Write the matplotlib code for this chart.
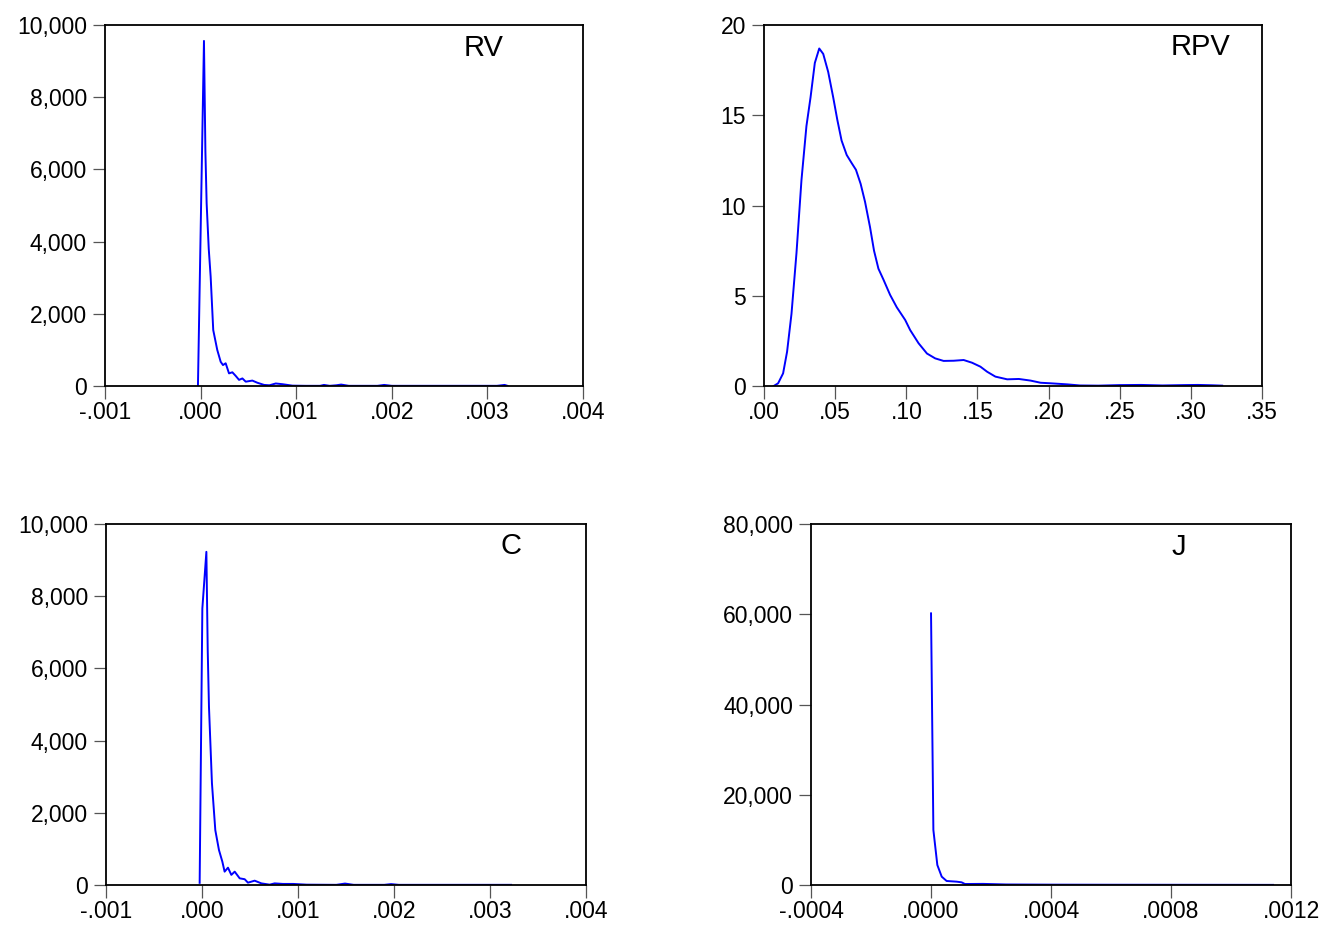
import numpy as np
import matplotlib.pyplot as plt
from matplotlib.ticker import FuncFormatter

plt.rcParams['font.family'] = ['Liberation Sans', 'DejaVu Sans']

# kernel density curves
rv_x = [-0.000028, 0.000035, 0.000050, 0.000063, 0.000085, 0.000105, 0.000132, 0.000174, 0.000210,
        0.000234, 0.000262, 0.000297, 0.000332, 0.000367, 0.000402, 0.000437, 0.000472, 0.000541,
        0.000594, 0.000664, 0.000720, 0.000786, 0.000856, 0.000960, 0.00110, 0.00125, 0.00129,
        0.00135, 0.00142, 0.00147, 0.00155, 0.00185, 0.00192, 0.00200, 0.00250, 0.00310, 0.00318, 0.00321]
rv_y = [0, 9560, 6500, 5060, 3800, 3030, 1550, 1000, 670,
        580, 630, 350, 380, 280, 170, 210, 120, 150,
        90, 30, 20, 70, 50, 10, 5, 5, 30,
        5, 20, 40, 5, 5, 30, 5, 5, 5, 30, 5]

rpv_x = [0.0068, 0.0099, 0.0134, 0.0162, 0.0193, 0.0228, 0.0263, 0.0298, 0.0327, 0.0357, 0.0388,
         0.0416, 0.0451, 0.0486, 0.0515, 0.0545, 0.0581, 0.0616, 0.0646, 0.0679, 0.0710, 0.0745,
         0.0773, 0.0804, 0.0839, 0.0886, 0.0933, 0.0992, 0.1027, 0.1086, 0.1145, 0.1203, 0.1262,
         0.1333, 0.1403, 0.1462, 0.1521, 0.1568, 0.1626, 0.1709, 0.1791, 0.1873, 0.1944, 0.2014,
         0.2132, 0.2220, 0.2350, 0.2500, 0.2650, 0.2800, 0.2950, 0.3050, 0.3150, 0.3220]
rpv_y = [0.0, 0.15, 0.70, 1.9, 4.0, 7.36, 11.4, 14.4, 16.0, 17.9, 18.7,
         18.4, 17.4, 16.0, 14.75, 13.6, 12.8, 12.35, 11.98, 11.2, 10.2, 8.8,
         7.5, 6.5, 5.9, 5.05, 4.36, 3.66, 3.1, 2.37, 1.8, 1.53, 1.39,
         1.40, 1.44, 1.29, 1.07, 0.79, 0.52, 0.37, 0.39, 0.30, 0.18, 0.15,
         0.09, 0.03, 0.02, 0.05, 0.06, 0.03, 0.05, 0.06, 0.04, 0.02]

c_x = [-0.000024, 0.000004, 0.000046, 0.000060, 0.000073, 0.000104, 0.000139, 0.000177, 0.000212,
       0.000236, 0.000271, 0.000306, 0.000341, 0.000393, 0.000445, 0.000479, 0.000549, 0.000619,
       0.000705, 0.000757, 0.000844, 0.00095, 0.00109, 0.00140, 0.00149, 0.00158, 0.00190,
       0.00197, 0.00205, 0.00250, 0.00322]
c_y = [60, 7660, 9230, 6500, 4940, 2820, 1520, 970, 650,
       370, 480, 280, 370, 185, 160, 65, 120, 45,
       10, 45, 30, 30, 10, 5, 40, 5, 5,
       25, 5, 5, 5]

j_x = [0.0, 0.0000078, 0.000021, 0.0000356, 0.000052, 0.0000856, 0.000102, 0.000113, 0.000173,
       0.00025, 0.0004, 0.0006, 0.0008, 0.0010, 0.00114]
j_y = [60200, 12200, 4430, 1850, 890, 740, 590, 220, 250,
       120, 80, 60, 50, 40, 30]


def dotfmt(nd):
    def f(v, pos):
        s = f"{v:.{nd}f}"
        if s.startswith('-'):
            s = s.replace('-0.', '-.')
        else:
            s = s.replace('0.', '.', 1)
        return s
    return FuncFormatter(f)


def style(ax, name, tx, ty):
    for s in ax.spines.values():
        s.set_linewidth(1.3)
        s.set_color('black')
    ax.tick_params(axis='both', direction='out', labelsize=16.5, width=0.9, color='#555555')
    ax.tick_params(axis='y', length=9, pad=4)
    ax.tick_params(axis='x', length=9, pad=2)
    ax.text(tx, ty, name, transform=ax.transAxes, fontsize=21, ha='center', va='center')


fig = plt.figure(figsize=(13.43, 9.27), dpi=100)

ax1 = fig.add_axes([0.0782, 0.5836, 0.3559, 0.3894])
ax1.plot(rv_x, rv_y, color='#0000ff', lw=1.4)
ax1.set_xlim(-0.001, 0.004)
ax1.set_ylim(0, 10000)
ax1.set_xticks(np.arange(-0.001, 0.0041, 0.001))
ax1.set_yticks(np.arange(0, 10001, 2000))
ax1.xaxis.set_major_formatter(dotfmt(3))
ax1.yaxis.set_major_formatter(FuncFormatter(lambda v, p: f"{v:,.0f}"))
style(ax1, 'RV', 0.791, 0.936)

ax2 = fig.add_axes([0.5689, 0.5836, 0.3708, 0.3894])
ax2.plot(rpv_x, rpv_y, color='#0000ff', lw=1.4)
ax2.set_xlim(0, 0.35)
ax2.set_ylim(0, 20)
ax2.set_xticks(np.arange(0, 0.351, 0.05))
ax2.set_yticks(np.arange(0, 21, 5))
ax2.xaxis.set_major_formatter(dotfmt(2))
style(ax2, 'RPV', 0.876, 0.939)

ax3 = fig.add_axes([0.0789, 0.0453, 0.3574, 0.3894])
ax3.plot(c_x, c_y, color='#0000ff', lw=1.4)
ax3.set_xlim(-0.001, 0.004)
ax3.set_ylim(0, 10000)
ax3.set_xticks(np.arange(-0.001, 0.0041, 0.001))
ax3.set_yticks(np.arange(0, 10001, 2000))
ax3.xaxis.set_major_formatter(dotfmt(3))
ax3.yaxis.set_major_formatter(FuncFormatter(lambda v, p: f"{v:,.0f}"))
style(ax3, 'C', 0.844, 0.939)

ax4 = fig.add_axes([0.6039, 0.0453, 0.3574, 0.3894])
ax4.plot(j_x, j_y, color='#0000ff', lw=1.4)
ax4.set_xlim(-0.0004, 0.0012)
ax4.set_ylim(0, 80000)
ax4.set_xticks(np.arange(-0.0004, 0.00121, 0.0004))
ax4.set_yticks(np.arange(0, 80001, 20000))
ax4.xaxis.set_major_formatter(dotfmt(4))
ax4.yaxis.set_major_formatter(FuncFormatter(lambda v, p: f"{v:,.0f}"))
style(ax4, 'J', 0.767, 0.936)

plt.savefig('out.png', dpi=100)
plt.close()
